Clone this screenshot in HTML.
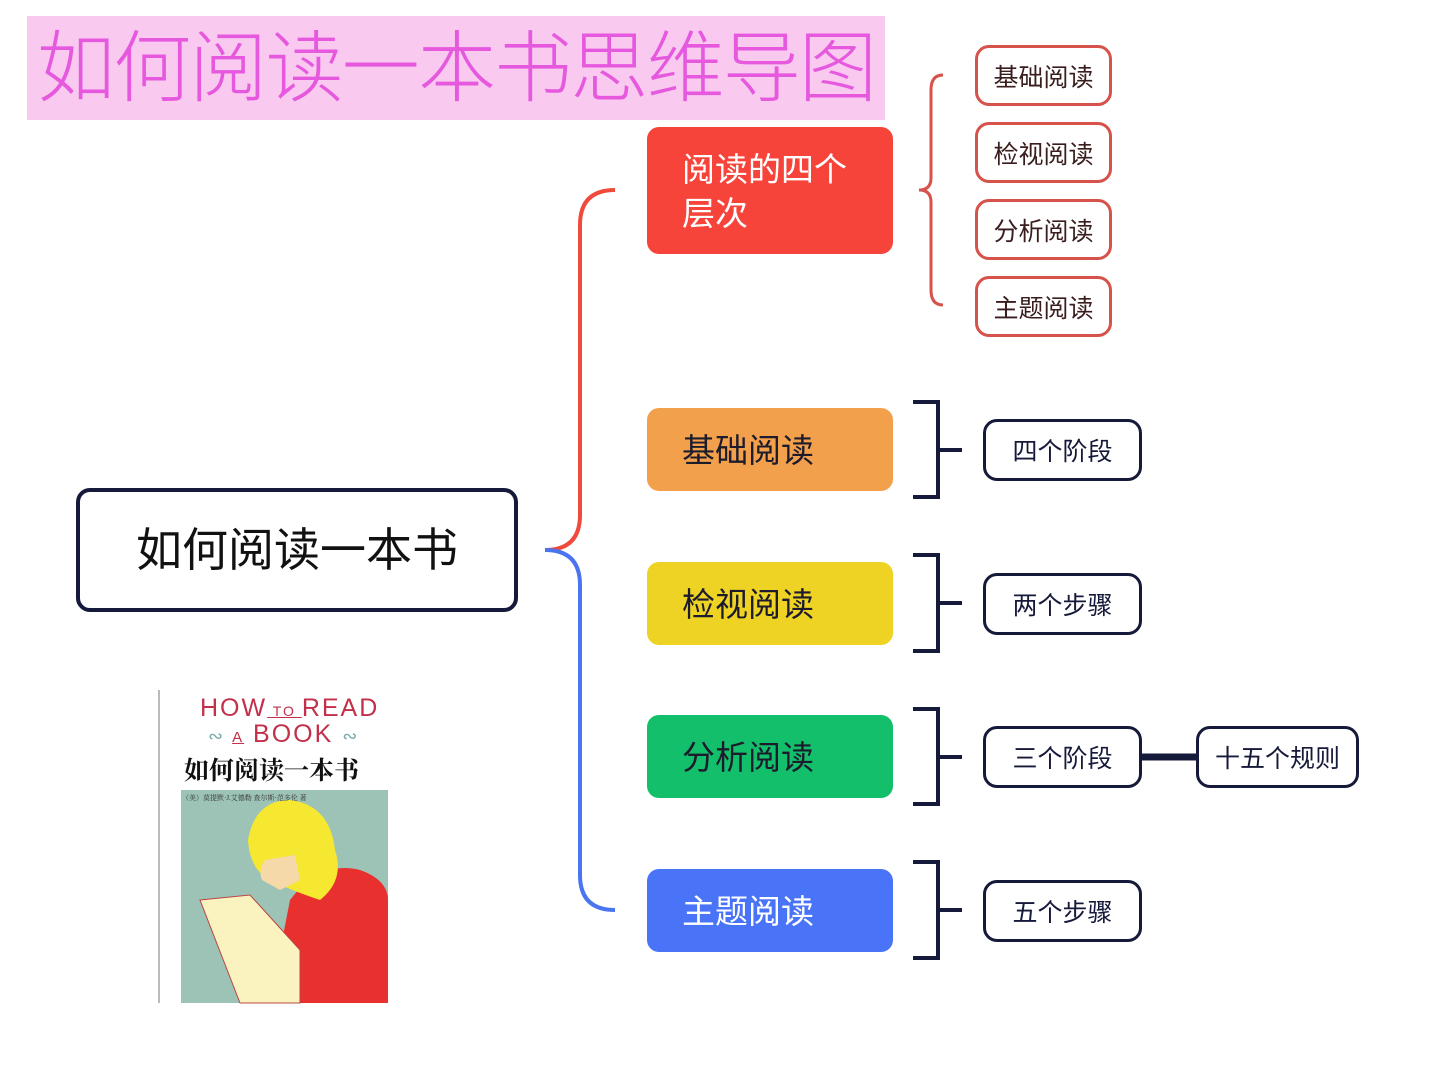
<!DOCTYPE html>
<html><head><meta charset="utf-8"><style>
body{margin:0;width:1440px;height:1072px;background:#fff;position:relative;overflow:hidden;font-family:"Liberation Sans","Noto Sans CJK SC",sans-serif;}
.a{position:absolute;box-sizing:border-box;}
.title{left:27px;top:16px;width:858px;height:104px;background:#f9c9ef;color:#e659df;font-size:78px;line-height:104px;padding-left:10px;font-weight:300;letter-spacing:-1.8px;white-space:nowrap;}
.center{left:76px;top:488px;width:442px;height:124px;border:4px solid #151a3a;border-radius:14px;font-size:46px;line-height:116px;text-align:center;color:#111;}
.mn{left:647px;width:246px;border-radius:12px;color:#fff;font-size:33px;padding-left:35px;line-height:85px;}
.lf{left:983px;width:159px;height:62px;border:3px solid #161a3a;border-radius:14px;font-size:25px;line-height:60px;text-align:center;color:#161a3a;}
.rs{left:975px;width:137px;height:61px;border:3px solid #d6524a;border-radius:14px;font-size:25px;line-height:60px;text-align:center;color:#3a1d1d;}
</style></head><body>
<div class="a title">如何阅读一本书思维导图</div>
<svg class="a" style="left:0;top:0" width="1440" height="1072">
<g fill="none" stroke-width="4">
<path d="M545 550 Q580 550 580 515 L580 225 Q580 190 615 190" stroke="#f04a3c"/>
<path d="M545 550 Q580 550 580 585 L580 875 Q580 910 615 910" stroke="#4a74f0"/>
<path d="M943 75 Q931 75 931 90 L931 178 Q931 190 919 190 Q931 190 931 202 L931 290 Q931 305 943 305" stroke="#d6524a" stroke-width="3"/>
</g>
<g fill="none" stroke="#161a3a" stroke-width="4">
<path d="M913 402 H938 V497 H913 M938 450 H962"/>
<path d="M913 555 H938 V651 H913 M938 603 H962"/>
<path d="M913 709 H938 V804 H913 M938 757 H962"/>
<path d="M913 862 H938 V958 H913 M938 910 H962"/>
<path d="M1142 757 H1196" stroke-width="7"/>
</g>
<line x1="159" y1="690" x2="159" y2="1003" stroke="#bbb" stroke-width="2"/>
<rect x="181" y="790" width="207" height="213" fill="#9cc3b6"/>
<path d="M270 1003 L290 900 Q320 860 360 870 Q388 880 388 900 L388 1003 Z" fill="#e8302e"/>
<path d="M248 840 Q255 800 290 800 Q330 805 335 850 Q345 880 320 900 Q290 890 270 880 Q250 870 248 840Z" fill="#f6e830"/>
<path d="M265 860 Q258 870 262 880 L280 890 L300 880 L295 855Z" fill="#f6d9a8"/>
<path d="M200 900 L250 895 L300 950 L300 1003 L240 1003 Z" fill="#faf3c0" stroke="#b44" stroke-width="1"/>
<text x="182" y="800" font-size="7" fill="#333" font-family="Liberation Serif,Noto Serif CJK SC,serif">（美）莫提默·J.艾德勒 查尔斯·范多伦 著</text>
</svg>
<div class="a" style="left:200px;top:694px;font-size:25px;color:#c2304a;letter-spacing:2px;">HOW<span style="font-size:14px;text-decoration:underline"> TO </span>READ</div>
<div class="a" style="left:208px;top:720px;font-size:25px;color:#c2304a;letter-spacing:2px;"><span style="color:#7aa;font-size:18px">∾ </span><span style="font-size:15px;text-decoration:underline">A</span> BOOK <span style="color:#7aa;font-size:18px">∾</span></div>
<div class="a" style="left:184px;top:751px;font-size:25px;font-weight:bold;color:#111;font-family:'Noto Serif CJK SC',serif;">如何阅读一本书</div>

<div class="a center">如何阅读一本书</div>
<div class="a mn" style="top:127px;height:127px;background:#f6443a;line-height:44px;padding-top:21px;">阅读的四个<br>层次</div>
<div class="a mn" style="top:408px;height:83px;background:#f3a04c;color:#1c1c2c;">基础阅读</div>
<div class="a mn" style="top:562px;height:83px;background:#efd324;color:#1c1c2c;">检视阅读</div>
<div class="a mn" style="top:715px;height:83px;background:#13bf6a;color:#1c1c2c;">分析阅读</div>
<div class="a mn" style="top:869px;height:83px;background:#4a74f7;">主题阅读</div>

<div class="a rs" style="top:45px">基础阅读</div>
<div class="a rs" style="top:122px">检视阅读</div>
<div class="a rs" style="top:199px">分析阅读</div>
<div class="a rs" style="top:276px">主题阅读</div>

<div class="a lf" style="top:419px">四个阶段</div>
<div class="a lf" style="top:573px">两个步骤</div>
<div class="a lf" style="top:726px">三个阶段</div>
<div class="a lf" style="top:880px">五个步骤</div>
<div class="a lf" style="top:726px;left:1196px;width:163px;">十五个规则</div>
</body></html>
